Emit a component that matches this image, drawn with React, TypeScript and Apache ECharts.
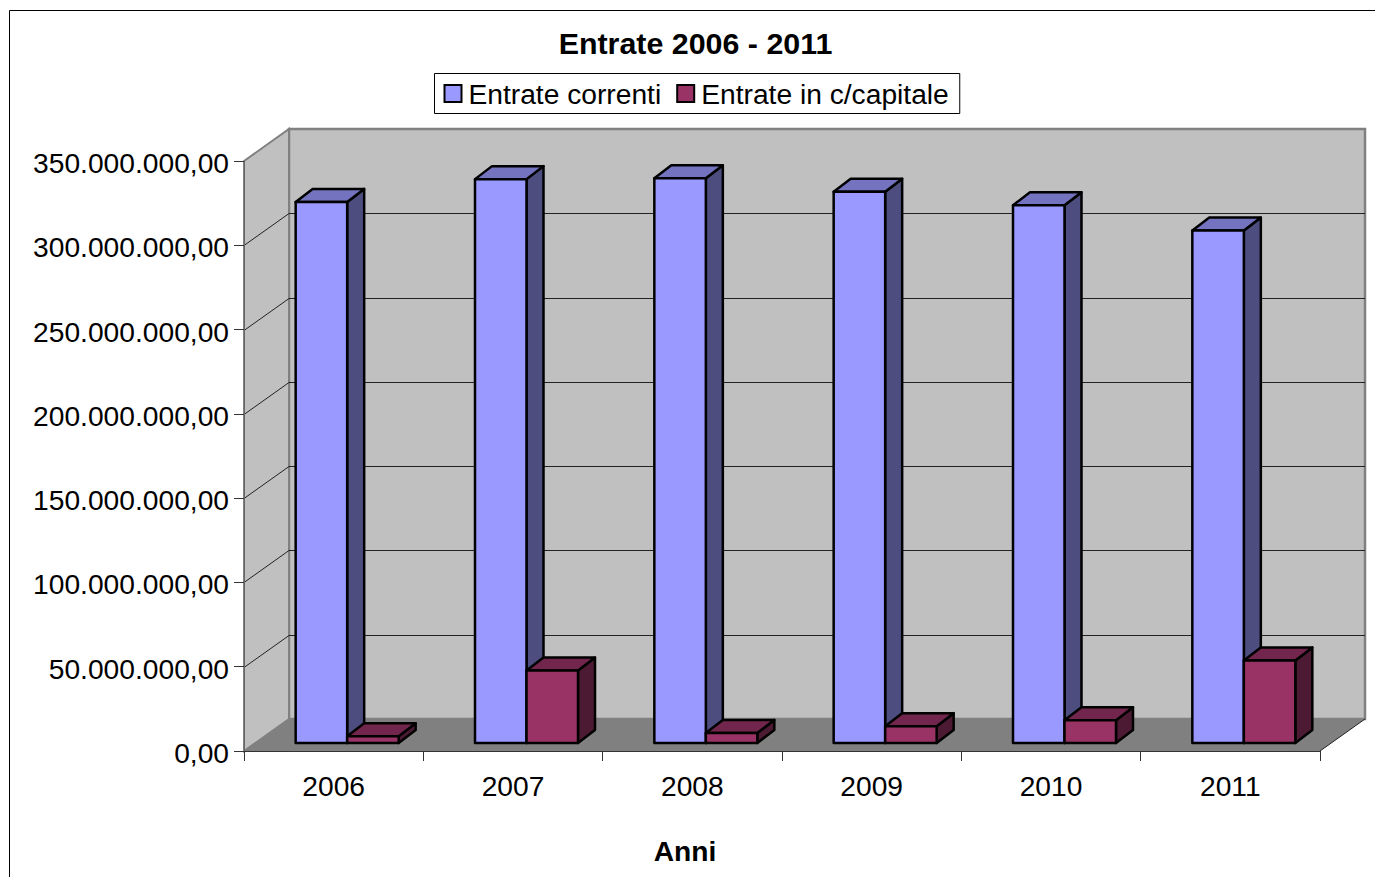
import React, { useEffect, useRef } from "react";
import * as echarts from "echarts";

const years = ["2006", "2007", "2008", "2009", "2010", "2011"];
const entrateCorrenti = [321000000, 334500000, 335000000, 327000000, 319000000, 304000000];
const entrateCapitale = [4000000, 43000000, 6000000, 10000000, 13500000, 49000000];
const gridTicks = [50000000, 100000000, 150000000, 200000000, 250000000, 300000000];

const FONT = '"Liberation Sans", Arial, sans-serif';
const WALL_DX = 45;
const WALL_DY = -32;
const BAR_DX = 17;
const BAR_DY = -13;
const BAR_SHIFT_X = 13.5;
const BAR_SHIFT_Y = -8;
const BAR_W = 51.5;

const fmt = (v: number) =>
  String(Math.round(v)).replace(/\B(?=(\d{3})+(?!\d))/g, ".") + ",00";

function makeBar(col: number, face: string, top: string, side: string) {
  return (_p: any, api: any) => {
    const c = api.coord([api.value(0), api.value(1)]);
    const b = api.coord([api.value(0), 0]);
    const cx = c[0] + BAR_SHIFT_X;
    const x0 = cx + (col === 0 ? -BAR_W : 0);
    const x1 = x0 + BAR_W;
    const y0 = c[1] + BAR_SHIFT_Y;
    const y1 = b[1] + BAR_SHIFT_Y;
    const base = { stroke: "#000", lineWidth: 2.5, lineJoin: "round" };
    return {
      type: "group",
      children: [
        {
          type: "polygon",
          shape: { points: [[x1, y0], [x1 + BAR_DX, y0 + BAR_DY], [x1 + BAR_DX, y1 + BAR_DY], [x1, y1]] },
          style: { ...base, fill: side },
        },
        {
          type: "polygon",
          shape: { points: [[x0, y0], [x0 + BAR_DX, y0 + BAR_DY], [x1 + BAR_DX, y0 + BAR_DY], [x1, y0]] },
          style: { ...base, fill: top },
        },
        {
          type: "polygon",
          shape: { points: [[x0, y0], [x1, y0], [x1, y1], [x0, y1]] },
          style: { ...base, fill: face },
        },
      ],
    };
  };
}

export default function App() {
  const ref = useRef<HTMLDivElement>(null);
  useEffect(() => {
    const chart = echarts.init(ref.current!, undefined, { renderer: "svg" });
    const option: any = {
      animation: false,
      backgroundColor: "#fff",
      graphic: [
        {
          type: "rect",
          z: 0,
          silent: true,
          shape: { x: 9.5, y: 10.5, width: 1500, height: 1000 },
          style: { fill: "none", stroke: "#000", lineWidth: 1 },
        },
      ],
      title: [
        {
          text: "Entrate 2006 - 2011",
          left: 695.5,
          top: 28,
          padding: 0,
          textAlign: "center",
          textStyle: { fontFamily: FONT, fontSize: 30.4, fontWeight: "bold", color: "#000" },
        },
        {
          text: "Anni",
          left: 685,
          top: 837,
          padding: 0,
          textAlign: "center",
          textStyle: { fontFamily: FONT, fontSize: 28.2, fontWeight: "bold", color: "#000" },
        },
      ],
      legend: {
        left: 434.5,
        top: 73.5,
        padding: [6, 11, 6, 9],
        itemGap: 15,
        itemWidth: 17,
        itemHeight: 17,
        borderColor: "#000",
        borderWidth: 1,
        backgroundColor: "#fff",
        icon: "rect",
        textStyle: { fontFamily: FONT, fontSize: 28.2, color: "#000", padding: [0, 1, 0, 2] },
        data: [
          { name: "Entrate correnti", itemStyle: { color: "#9999FF", borderColor: "#000", borderWidth: 2 } },
          { name: "Entrate in c/capitale", itemStyle: { color: "#993366", borderColor: "#000", borderWidth: 2 } },
        ],
      },
      grid: { left: 244, top: 161, width: 1076, height: 590, containLabel: false, outerBoundsMode: "none" },
      xAxis: {
        type: "category",
        data: years,
        z: 5,
        axisLine: { lineStyle: { color: "#333", width: 1 } },
        axisTick: { show: true, length: 10, alignWithLabel: false, lineStyle: { color: "#333" } },
        axisLabel: { interval: 0, margin: 21, fontFamily: FONT, fontSize: 28.2, color: "#000" },
        splitLine: { show: false },
      },
      yAxis: {
        type: "value",
        min: 0,
        max: 350000000,
        interval: 50000000,
        z: 5,
        axisLine: { show: true, lineStyle: { color: "#666", width: 1 } },
        axisTick: { show: true, length: 10, lineStyle: { color: "#333" } },
        axisLabel: {
          margin: 15,
          verticalAlign: "top",
          lineHeight: 28,
          padding: [-12, 0, 0, 0],
          fontFamily: FONT,
          fontSize: 28.2,
          color: "#000",
          formatter: fmt,
        },
        splitLine: { show: false },
      },
      series: [
        {
          type: "custom",
          name: "pareti",
          silent: true,
          z: 1,
          data: [[0, 0]],
          renderItem: (p: any) => {
            const { x, y, width, height } = p.coordSys;
            const r = x + width;
            const b = y + height;
            const gray = { stroke: "#808080", lineWidth: 2.5 };
            return {
              type: "group",
              children: [
                {
                  type: "polygon",
                  shape: { points: [[x + WALL_DX, y + WALL_DY], [r + WALL_DX, y + WALL_DY], [r + WALL_DX, b + WALL_DY], [x + WALL_DX, b + WALL_DY]] },
                  style: { fill: "#C0C0C0", ...gray },
                },
                {
                  type: "polygon",
                  shape: { points: [[x, y], [x + WALL_DX, y + WALL_DY], [x + WALL_DX, b + WALL_DY], [x, b]] },
                  style: { fill: "#C0C0C0", stroke: "#808080", lineWidth: 2 },
                },
                {
                  type: "polygon",
                  shape: { points: [[x, b], [r, b], [r + WALL_DX, b + WALL_DY], [x + WALL_DX, b + WALL_DY]] },
                  style: { fill: "#808080", stroke: "#808080", lineWidth: 0 },
                },
                {
                  type: "line",
                  shape: { x1: r, y1: b, x2: r + WALL_DX, y2: b + WALL_DY },
                  style: { stroke: "#222", lineWidth: 1 },
                },
              ],
            };
          },
        },
        {
          type: "custom",
          name: "griglia",
          silent: true,
          z: 2,
          data: gridTicks.map((v) => [0, v]),
          encode: { x: 0, y: 1 },
          renderItem: (p: any, api: any) => {
            const { x, width } = p.coordSys;
            const yy = Math.round(api.coord([0, api.value(1)])[1]) + 0.5;
            const ln = { stroke: "#222", lineWidth: 1 };
            return {
              type: "polyline",
              shape: { points: [[x, yy], [x + WALL_DX, yy + WALL_DY], [x + width + WALL_DX, yy + WALL_DY]] },
              style: { ...ln, fill: "none" },
            };
          },
        },
        {
          type: "custom",
          name: "Entrate correnti",
          z: 3,
          silent: true,
          itemStyle: { color: "#9999FF" },
          encode: { x: 0, y: 1 },
          data: entrateCorrenti.map((v, i) => [i, v]),
          renderItem: makeBar(0, "#9999FF", "#7373BF", "#4D4D80"),
        },
        {
          type: "custom",
          name: "Entrate in c/capitale",
          z: 4,
          silent: true,
          itemStyle: { color: "#993366" },
          encode: { x: 0, y: 1 },
          data: entrateCapitale.map((v, i) => [i, v]),
          renderItem: makeBar(1, "#993366", "#73264D", "#4D1A33"),
        },
      ],
    };
    chart.setOption(option);
    return () => chart.dispose();
  }, []);
  return (
    <div
      ref={ref}
      style={{ position: "fixed", left: 0, top: 0, width: 1375, height: 877, overflow: "hidden" }}
    />
  );
}
